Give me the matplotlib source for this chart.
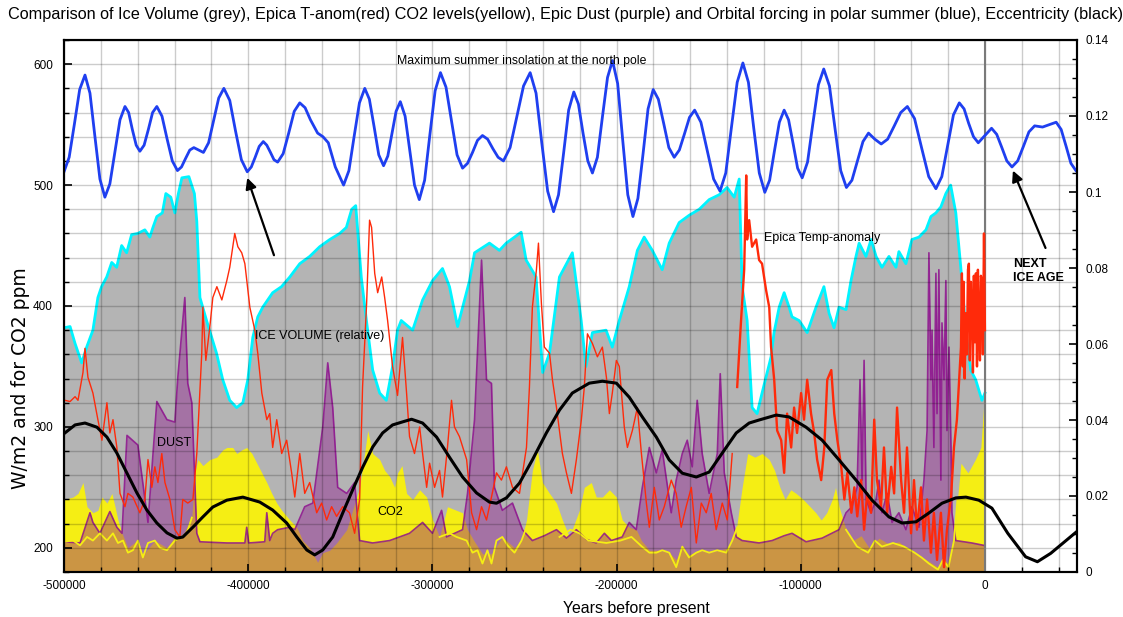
import numpy as np
import matplotlib
matplotlib.use("Agg")
import matplotlib.pyplot as plt
from matplotlib.ticker import MultipleLocator, FuncFormatter

# --- data; time in kyr (negative = before present) ---

# ice volume (relative), left axis units
ice_ka = [-500.0, -496.7, -494.0, -490.4, -487.7, -484.3, -481.6, -479.6, -476.8, -474.1,
          -471.4, -468.7, -466.0, -463.3, -459.9, -456.1, -453.4, -451.7, -449.6, -446.6,
          -444.7, -442.0, -439.8, -437.9, -436.0, -432.2, -429.2, -427.9, -426.2, -422.6,
          -417.2, -413.8, -410.0, -406.3, -402.9, -400.2, -397.5, -394.8, -392.1, -386.7,
          -381.9, -377.4, -372.0, -366.6, -361.2, -355.7, -350.3, -346.7, -343.8, -341.6,
          -338.6, -335.8, -332.4, -328.6, -325.0, -321.6, -318.9, -316.9, -310.7, -305.3,
          -299.9, -294.5, -290.7, -286.3, -279.8, -277.1, -269.0, -263.6, -259.9, -251.8,
          -249.1, -243.7, -240.1, -236.4, -231.0, -224.0, -219.2, -216.6, -213.1, -205.7,
          -202.3, -198.5, -193.1, -188.7, -185.0, -180.6, -175.2, -171.4, -166.0, -160.6,
          -155.1, -149.7, -144.3, -140.0, -136.1, -133.4, -131.8, -129.1, -126.4, -123.7,
          -121.0, -116.1, -114.5, -111.7, -109.0, -106.3, -104.7, -100.9, -96.5, -91.7,
          -87.4, -84.6, -81.9, -79.2, -75.4, -72.7, -70.0, -68.3, -64.6, -61.8,
          -59.1, -55.9, -52.1, -48.3, -46.7, -42.9, -39.6, -35.8, -32.0, -29.3,
          -26.6, -23.9, -21.2, -18.6, -15.8, -13.1, -10.4, -7.7, -5.0, -1.6, 0.0]
ice_val = [382, 383, 369, 353, 366, 380, 407, 416, 424, 436,
           432, 450, 444, 459, 460, 463, 457, 465, 474, 477,
           493, 490, 477, 493, 506, 507, 493, 470, 407, 388,
           361, 339, 322, 316, 320, 339, 374, 391, 399, 411,
           416, 424, 435, 441, 449, 455, 460, 465, 480, 483,
           424, 388, 347, 328, 322, 350, 380, 388, 380, 405,
           421, 431, 416, 383, 421, 444, 452, 446, 452, 461,
           438, 424, 345, 361, 424, 444, 388, 350, 378, 380,
           366, 388, 416, 446, 457, 446, 430, 452, 469, 475,
           480, 488, 492, 498, 490, 505, 416, 388, 316, 311,
           328, 358, 378, 399, 411, 399, 391, 388, 378, 399,
           416, 394, 382, 399, 397, 421, 441, 452, 441, 455,
           441, 432, 441, 432, 445, 435, 455, 457, 463, 474,
           477, 482, 493, 500, 477, 432, 380, 347, 339, 322, 328]

# CO2 (upper yellow fill), ppm
co2_ka = [-500.0, -495.1, -492.4, -489.7, -487.5, -484.3, -481.6, -479.4, -476.7, -474.0,
          -472.3, -470.7, -468.5, -465.3, -460.4, -457.2, -450.7, -444.1, -439.8, -436.0,
          -430.6, -429.0, -427.3, -424.6, -420.8, -417.0, -413.8, -411.6, -408.4, -406.2,
          -403.5, -400.8, -398.0, -395.3, -392.6, -389.9, -387.2, -384.5, -381.8, -377.4,
          -373.6, -370.4, -366.6, -362.3, -359.5, -355.7, -352.0, -346.5, -343.3, -339.5,
          -336.8, -335.1, -332.4, -328.6, -325.9, -323.2, -320.5, -318.9, -316.5, -314.0,
          -310.7, -306.9, -303.1, -299.9, -296.1, -291.8, -286.9, -283.6, -280.9, -277.1,
          -272.8, -267.9, -262.0, -255.4, -251.6, -248.9, -245.7, -243.0, -240.2, -236.4,
          -232.6, -229.4, -225.6, -220.2, -217.5, -213.7, -211.0, -207.7, -203.9, -200.1,
          -196.9, -193.1, -189.3, -186.5, -182.2, -176.8, -171.4, -167.6, -164.3, -160.6,
          -155.1, -149.7, -144.3, -138.8, -135.0, -131.8, -128.8, -124.9, -121.0, -117.1,
          -114.2, -111.3, -108.5, -105.4, -102.5, -98.7, -94.9, -91.8, -88.9, -85.9,
          -82.9, -81.1, -79.2, -75.4, -71.6, -67.2, -62.9, -57.5, -52.1, -46.7,
          -41.2, -35.8, -30.5, -25.5, -22.8, -19.8, -16.8, -14.9, -13.0, -9.2,
          -5.2, -2.2, -0.5, 0.0]
co2_val = [240, 242, 245, 254, 234, 229, 231, 242, 237, 245,
           234, 223, 212, 200, 206, 194, 206, 200, 209, 209,
           225, 262, 273, 268, 273, 275, 281, 283, 283, 278,
           281, 283, 278, 270, 262, 254, 245, 237, 231, 223,
           217, 206, 200, 188, 196, 198, 204, 215, 231, 250,
           278, 297, 278, 273, 264, 259, 250, 262, 268, 245,
           240, 248, 242, 223, 209, 234, 231, 229, 215, 205,
           195, 195, 209, 200, 206, 223, 264, 281, 254, 245,
           237, 223, 209, 231, 250, 254, 242, 242, 248, 242,
           223, 217, 215, 206, 198, 198, 196, 190, 201, 194,
           198, 196, 198, 200, 215, 250, 278, 275, 278, 273,
           264, 250, 240, 248, 245, 240, 234, 229, 223, 229,
           240, 250, 234, 215, 206, 210, 200, 208, 203, 205,
           198, 194, 189, 184, 192, 186, 206, 240, 270, 262,
           273, 283, 322, 355]

# second (lower) yellow CO2 trace, only where it separates from the fill
nan = np.nan
co2b_ka = [-500.0, -495.1, -491.3, -487.5, -484.3, -480.5, -476.7, -473.4, -470.7, -468.0,
           -465.3, -462.6, -459.9, -457.2, -454.4, -450.7, -447.9, -444.1, -439.8, -436.0,
           -433.3, -430.6, nan,
           -296.1, -290.7, -286.9, -281.4, -278.2, -275.5, -272.8, -270.1, -267.9, -265.2,
           -262.0, -259.2, -255.4, -251.6, -248.9, nan,
           -231.0, -225.0, -220.2, -215.3, -205.5, -197.9, -191.9, -186.2, -182.2, -178.4,
           -175.2, -171.4, -167.6, -164.3, -160.6, -156.7, -153.5, -149.7, -145.3, -140.4,
           -137.2, -134.5, nan,
           -75.4, -69.4, -63.4, -59.7, -55.9, -49.9, -43.9, -38.2, -34.4, -30.4,
           -25.5, -22.8, -19.8, -16.8, -14.9]
co2b_val = [205, 206, 202, 209, 206, 212, 206, 212, 204, 206,
            196, 198, 206, 192, 204, 206, 200, 198, 206, 209,
            212, 225, nan,
            209, 212, 209, 206, 196, 198, 187, 198, 187, 206,
            209, 202, 196, 206, 217, nan,
            209, 215, 212, 206, 204, 206, 209, 201, 196, 196,
            198, 196, 184, 201, 192, 196, 198, 196, 198, 196,
            206, 217, nan,
            215, 201, 196, 206, 201, 204, 201, 196, 192, 187,
            182, 190, 184, 206, 240]

# EPICA dust (purple), left axis units
dust_ka = [-500.0, -491.3, -485.9, -484.3, -480.5, -475.1, -471.3, -468.5, -465.8, -459.9,
           -454.4, -449.6, -444.1, -439.8, -438.2, -434.4, -432.8, -430.6, -427.9, -426.2,
           -411.6, -401.8, -400.8, -399.7, -391.0, -389.9, -388.3, -386.7, -384.0, -377.4,
           -374.7, -369.3, -364.9, -359.5, -356.8, -354.1, -351.4, -346.5, -342.2, -339.5,
           -332.4, -323.2, -312.4, -305.3, -299.9, -295.0, -292.3, -283.6, -280.9, -277.1,
           -273.3, -270.6, -267.9, -266.3, -262.0, -256.5, -251.1, -245.7, -239.2, -232.6,
           -227.2, -221.8, -216.4, -211.0, -206.6, -202.8, -196.9, -193.1, -189.3, -186.0,
           -182.2, -178.4, -175.2, -170.3, -167.6, -164.3, -161.6, -158.9, -156.2, -153.5,
           -149.7, -145.3, -143.7, -141.5, -137.7, -135.0, -131.8, -122.6, -115.5, -109.0,
           -104.7, -97.1, -88.4, -79.2, -75.4, -72.2, -69.4, -67.8, -66.7, -65.6,
           -64.5, -61.8, -59.1, -57.5, -55.9, -53.1, -50.4, -46.7, -42.9, -39.6,
           -35.8, -33.1, -31.4, -30.4, -29.3, -28.7, -27.7, -26.6, -26.0, -25.0,
           -23.9, -23.3, -22.2, -21.2, -20.6, -19.5, -18.4, -17.9, -15.8, -7.1,
           -0.5, 0.0]
dust_val = [205, 204, 229, 221, 212, 230, 217, 212, 293, 285,
            221, 321, 306, 304, 341, 407, 336, 320, 212, 205,
            204, 204, 217, 204, 205, 229, 206, 212, 215, 217,
            215, 234, 237, 300, 353, 316, 250, 245, 254, 206,
            204, 206, 212, 221, 212, 231, 209, 215, 245, 306,
            438, 339, 336, 250, 231, 237, 215, 206, 210, 215,
            208, 215, 207, 204, 212, 206, 209, 221, 215, 250,
            283, 262, 281, 229, 256, 278, 289, 267, 322, 278,
            245, 278, 344, 262, 229, 209, 206, 204, 206, 210,
            212, 205, 208, 215, 229, 234, 250, 339, 256, 355,
            240, 229, 240, 256, 229, 245, 221, 229, 215, 234,
            217, 256, 297, 444, 339, 380, 283, 427, 311, 430,
            256, 386, 339, 421, 297, 366, 283, 229, 206, 204,
            202, 202]

# EPICA temperature anomaly (red), plotted on left axis units
temp_ka = [-499.5, -496.7, -494.0, -492.4, -489.7, -488.6, -487.0, -484.3, -481.6, -479.4,
           -476.7, -475.1, -473.4, -471.3, -469.6, -466.9, -465.3, -462.6, -458.8, -456.1,
           -454.4, -452.3, -450.7, -449.0, -446.9, -445.2, -442.5, -439.8, -437.1, -435.5,
           -432.8, -430.0, -427.9, -425.2, -424.6, -423.0, -420.8, -419.2, -417.0, -414.3,
           -411.6, -410.0, -407.3, -405.6, -403.5, -401.8, -399.1, -396.4, -394.8, -392.6,
           -389.9, -388.3, -386.7, -384.5, -381.8, -379.1, -376.4, -374.7, -372.0, -369.3,
           -366.6, -362.8, -360.1, -357.4, -354.7, -352.0, -348.7, -345.0, -342.2, -339.5,
           -337.9, -335.7, -334.1, -333.0, -331.3, -329.7, -327.5, -325.9, -324.3, -321.6,
           -318.9, -316.2, -314.0, -312.4, -309.7, -306.9, -305.3, -303.1, -301.5, -298.8,
           -296.1, -294.5, -291.8, -289.6, -288.0, -285.3, -281.4, -278.7, -276.0, -273.3,
           -270.6, -267.9, -265.2, -262.5, -259.8, -256.5, -252.7, -248.9, -247.3, -245.7,
           -243.5, -242.4, -240.8, -239.2, -236.4, -234.8, -232.6, -231.0, -229.4, -227.2,
           -224.5, -221.8, -219.1, -217.5, -215.8, -213.1, -210.4, -207.7, -205.5, -203.9,
           -202.3, -200.1, -198.5, -195.8, -194.1, -191.4, -188.7, -186.5, -183.8, -182.2,
           -179.5, -176.8, -174.1, -170.3, -167.6, -164.9, -162.2, -159.4, -156.7, -154.0,
           -151.3, -148.6, -145.9, -142.6, -139.9, -137.2, -134.5, -132.4, -130.7, -129.6,
           -129.1, -128.0, -126.4, -124.2, -122.6, -121.0, -118.8, -117.1, -116.1, -114.4,
           -112.8, -110.6, -109.0, -107.4, -105.2, -103.6, -102.0, -99.8, -98.2, -96.5,
           -94.4, -92.7, -91.1, -88.9, -87.2, -85.6, -83.4, -81.8, -80.1, -78.0,
           -76.3, -74.7, -72.5, -70.9, -69.3, -67.2, -65.6, -63.9, -61.8, -60.1,
           -58.6, -56.4, -54.8, -53.1, -50.9, -49.3, -47.7, -45.5, -43.9, -42.3,
           -40.1, -38.5, -36.9, -34.7, -33.1, -31.4, -29.3, -27.7, -26.0, -23.9,
           -22.2, -20.6, -18.4, -16.8, -15.2, -13.0, -12.5, -12.0, -11.5, -11.0,
           -10.3, -9.8, -9.2, -8.7, -8.2, -7.6, -7.0, -6.5, -6.0, -5.4,
           -4.9, -4.3, -3.8, -3.3, -2.7, -2.2, -1.6, -1.1, -0.5, 0.0]
temp_val = [322, 321, 325, 322, 345, 365, 341, 328, 306, 289,
            320, 295, 306, 283, 245, 234, 245, 242, 229, 240,
            273, 250, 267, 254, 278, 254, 240, 215, 209, 240,
            237, 240, 278, 361, 399, 355, 383, 407, 416, 405,
            421, 432, 460, 449, 444, 435, 399, 380, 361, 328,
            306, 311, 283, 306, 278, 289, 262, 242, 278, 245,
            254, 229, 237, 223, 234, 226, 234, 229, 212, 240,
            333, 402, 471, 465, 427, 411, 424, 407, 388, 350,
            326, 374, 328, 292, 278, 300, 278, 250, 270, 250,
            264, 242, 283, 322, 300, 292, 273, 229, 215, 234,
            223, 242, 262, 256, 267, 250, 245, 283, 333, 399,
            430, 452, 402, 366, 361, 339, 316, 297, 278, 262,
            245, 273, 306, 333, 377, 369, 358, 366, 341, 311,
            328, 355, 350, 300, 283, 297, 316, 278, 237, 217,
            250, 223, 234, 256, 245, 217, 234, 250, 204, 237,
            229, 245, 215, 237, 223, 278, 333, 388, 430, 508,
            455, 471, 449, 455, 438, 435, 413, 399, 366, 339,
            297, 289, 262, 311, 283, 316, 295, 328, 306, 339,
            311, 295, 273, 256, 283, 339, 347, 311, 289, 267,
            240, 262, 229, 250, 226, 256, 215, 245, 229, 306,
            256, 234, 283, 229, 267, 245, 316, 256, 229, 283,
            212, 256, 215, 250, 206, 240, 196, 229, 190, 229,
            184, 215, 242, 283, 306, 366, 427, 350, 420, 340,
            394, 360, 430, 435, 355, 420, 399, 345, 425, 370,
            427, 350, 430, 388, 355, 425, 421, 360, 460, 380]

# maximum summer insolation at the north pole (blue), W/m2
ins_ka = [-500.0, -497.2, -494.3, -491.5, -488.6, -485.9, -483.2, -480.5, -477.8, -475.1,
          -472.4, -469.6, -466.9, -464.9, -462.9, -460.8, -458.8, -456.5, -454.2, -451.9,
          -449.6, -446.8, -444.0, -441.2, -438.4, -436.2, -434.0, -431.7, -429.5, -426.9,
          -424.3, -421.5, -418.8, -416.0, -413.2, -410.0, -406.9, -403.7, -400.5, -398.3,
          -396.2, -394.0, -391.8, -389.9, -387.9, -386.0, -384.0, -381.0, -378.0, -375.0,
          -372.0, -369.1, -366.2, -362.3, -359.4, -356.5, -352.7, -348.2, -345.3, -342.5,
          -339.6, -336.7, -334.2, -331.6, -329.1, -326.5, -324.2, -322.0, -319.7, -317.4,
          -314.8, -312.3, -309.7, -307.1, -304.2, -301.4, -298.5, -295.6, -292.6, -289.6,
          -286.6, -283.6, -280.9, -278.2, -275.5, -272.8, -270.0, -267.1, -264.3, -261.4,
          -257.8, -254.2, -250.5, -246.9, -243.7, -240.6, -237.4, -234.2, -231.5, -228.7,
          -226.0, -223.2, -220.7, -218.2, -215.6, -213.1, -210.4, -207.7, -204.9, -202.2,
          -199.4, -196.7, -193.9, -191.1, -188.4, -185.6, -182.9, -180.1, -177.3, -174.4,
          -171.6, -168.7, -165.9, -163.2, -160.4, -157.6, -154.2, -150.7, -147.3, -143.8,
          -140.7, -137.6, -134.5, -131.4, -128.4, -125.5, -122.5, -119.5, -116.9, -114.3,
          -111.6, -109.0, -106.6, -104.1, -101.7, -99.2, -96.3, -93.4, -90.4, -87.5,
          -84.4, -81.4, -78.3, -75.2, -72.2, -69.2, -66.2, -63.2, -59.8, -56.3,
          -52.8, -49.2, -45.7, -42.1, -38.2, -34.4, -30.5, -26.6, -23.4, -20.3,
          -17.1, -13.9, -11.3, -8.8, -6.2, -3.6, 0.0, 3.6, 6.4, 9.2,
          11.9, 14.7, 17.8, 20.9, 23.9, 27.0, 31.3, 38.7, 41.4, 44.1,
          46.7, 49.4]
ins_val = [511, 523, 551, 579, 591, 576, 540, 505, 490, 501,
           527, 554, 565, 560, 546, 533, 528, 533, 546, 560,
           565, 557, 538, 520, 512, 515, 522, 529, 531, 529,
           527, 535, 553, 572, 580, 570, 545, 521, 511, 515,
           523, 532, 536, 533, 527, 521, 519, 526, 543, 561,
           568, 564, 554, 543, 540, 535, 515, 500, 512, 540,
           568, 580, 571, 548, 525, 516, 524, 542, 561, 569,
           557, 529, 500, 488, 504, 541, 578, 593, 581, 553,
           525, 514, 518, 527, 537, 541, 538, 530, 523, 520,
           531, 556, 582, 593, 576, 535, 495, 478, 492, 527,
           562, 577, 567, 543, 520, 510, 523, 556, 589, 603,
           584, 538, 492, 474, 489, 526, 563, 579, 571, 551,
           531, 523, 529, 542, 556, 562, 552, 528, 505, 495,
           510, 548, 585, 601, 585, 547, 510, 494, 504, 528,
           552, 562, 554, 534, 514, 506, 519, 551, 583, 596,
           582, 547, 512, 498, 504, 520, 536, 543, 538, 534,
           538, 549, 560, 565, 555, 531, 507, 497, 507, 532,
           558, 568, 563, 551, 540, 535, 541, 547, 542, 531,
           520, 515, 520, 532, 544, 549, 548, 552, 546, 532,
           518, 512]

# orbital eccentricity (black), right axis
ecc_ka = [-499.5, -494.0, -488.6, -482.1, -476.7, -471.3, -465.8, -460.4, -455.0, -449.6,
          -444.1, -438.7, -435.5, -430.0, -424.6, -419.2, -411.6, -402.9, -393.7, -386.7,
          -379.1, -373.6, -368.2, -363.9, -359.5, -354.1, -348.7, -343.3, -337.8, -332.4,
          -327.0, -321.6, -316.2, -311.3, -305.3, -297.7, -290.7, -283.6, -276.0, -269.0,
          -265.2, -259.8, -252.7, -245.7, -238.1, -231.0, -224.0, -214.8, -207.7, -200.1,
          -193.1, -186.0, -178.4, -171.4, -164.3, -156.7, -149.7, -142.6, -135.0, -128.0,
          -122.6, -113.3, -106.3, -97.1, -88.4, -79.2, -70.0, -61.3, -52.1, -45.0,
          -37.4, -30.5, -23.3, -15.8, -10.3, -3.3, 3.8, 12.4, 22.1, 28.5,
          35.7, 49.3]
ecc_val = [0.0366, 0.0387, 0.0392, 0.0381, 0.0355, 0.0313, 0.0260, 0.0208, 0.0163, 0.0129,
           0.0103, 0.0089, 0.0092, 0.0118, 0.0145, 0.0171, 0.0189, 0.0197, 0.0184, 0.0163,
           0.0129, 0.0092, 0.0058, 0.0045, 0.0058, 0.0092, 0.0155, 0.0216, 0.0276, 0.0329,
           0.0366, 0.0387, 0.0395, 0.0402, 0.0392, 0.0355, 0.0302, 0.0250, 0.0208, 0.0184,
           0.0181, 0.0195, 0.0234, 0.0295, 0.0366, 0.0426, 0.0471, 0.0497, 0.0502, 0.0497,
           0.0460, 0.0408, 0.0355, 0.0295, 0.0260, 0.0250, 0.0263, 0.0313, 0.0366, 0.0392,
           0.0400, 0.0413, 0.0408, 0.0381, 0.0347, 0.0295, 0.0242, 0.0189, 0.0145, 0.0129,
           0.0132, 0.0155, 0.0181, 0.0195, 0.0197, 0.0189, 0.0168, 0.0102, 0.0040, 0.0027,
           0.0049, 0.0104]

BASE = 180
DENSE_FROM_KA = -135.0   # the red record gets much denser (drawn heavier) after this

C_GREY = "#b4b4b4"
C_CYAN = "#00f4ff"
C_YELLOW = "#f5ee14"
C_DUST = "#8e118e"
C_RED = "#ff2a0a"
C_BLUE = "#1f3ff0"

FONT = "Liberation Sans"


def yrs(ka):
    return np.asarray(ka, dtype=float) * 1000.0


def main() -> None:
    plt.rcParams["font.family"] = [FONT, "DejaVu Sans"]

    fig = plt.figure(figsize=(11.23, 6.17), dpi=100)
    ax = fig.add_axes([64 / 1123, 45 / 617, 1013 / 1123, 532 / 617])

    # --- filled layers ---
    ax.fill_between(yrs(ice_ka), BASE, ice_val, color=C_GREY, lw=0, zorder=1.0)
    ax.plot(yrs(ice_ka), ice_val, color=C_CYAN, lw=2.0, zorder=1.1)
    ax.fill_between(yrs(co2_ka), BASE, co2_val, color=C_YELLOW, lw=0, zorder=1.2)
    ax.fill_between(yrs(dust_ka), BASE, dust_val, color=C_DUST, alpha=0.4, lw=0, zorder=1.3)
    ax.plot(yrs(dust_ka), dust_val, color=C_DUST, lw=1.2, alpha=0.85, zorder=1.35)
    ax.plot(yrs(co2b_ka), co2b_val, color=C_YELLOW, lw=1.3, zorder=1.4)

    # --- lines ---
    t_ka = np.asarray(temp_ka)
    t_val = np.asarray(temp_val, dtype=float)
    old = t_ka <= DENSE_FROM_KA
    new = t_ka >= DENSE_FROM_KA
    ax.plot(yrs(t_ka[old]), t_val[old], color=C_RED, lw=1.0, zorder=3)
    ax.plot(yrs(t_ka[new]), t_val[new], color=C_RED, lw=1.7, zorder=3)
    ax.plot(yrs(ins_ka), ins_val, color=C_BLUE, lw=2.0, zorder=3)
    ax.axvline(0, color="#7a7a7a", lw=1.5, zorder=2.6)

    ax.set_xlim(-500000, 50000)
    ax.set_ylim(180, 620)

    ax.xaxis.set_major_locator(MultipleLocator(100000))
    ax.xaxis.set_minor_locator(MultipleLocator(20000))
    ax.yaxis.set_major_locator(MultipleLocator(100))
    ax.yaxis.set_minor_locator(MultipleLocator(20))
    ax.xaxis.set_major_formatter(FuncFormatter(lambda v, p: f"{int(round(v))}" if v <= 0 else ""))

    ax.set_axisbelow(False)
    ax.grid(True, which="both", color="black", alpha=0.2, lw=1.0)
    ax.tick_params(which="both", direction="in", labelsize=8.5)
    ax.tick_params(which="major", length=6, width=1.2)
    ax.tick_params(which="minor", length=3.5, width=1.0)
    ax.tick_params(axis="y", pad=8)
    ax.tick_params(axis="x", pad=6)
    for s in ax.spines.values():
        s.set_linewidth(1.5)

    # --- eccentricity on right axis ---
    ax2 = ax.twinx()
    ax2.plot(yrs(ecc_ka), ecc_val, color="black", lw=2.2, zorder=4)
    ax2.set_ylim(0, 0.14)
    ax2.yaxis.set_major_locator(MultipleLocator(0.02))
    ax2.yaxis.set_minor_locator(MultipleLocator(0.005))
    ax2.yaxis.set_major_formatter(FuncFormatter(lambda v, p: f"{v:g}"))
    ax2.tick_params(which="both", direction="in", labelsize=8.5, pad=6)
    ax2.tick_params(which="major", length=6, width=1.2)
    ax2.tick_params(which="minor", length=3.5, width=1.0)
    for s in ax2.spines.values():
        s.set_linewidth(1.5)

    # --- annotations ---
    ax.text(-319000, 602.6, "Maximum summer insolation at the north pole",
            fontsize=8.8, va="center", ha="left", zorder=5)
    ax.text(-119800, 456, "Epica Temp-anomaly", fontsize=9, va="center", ha="left", zorder=5)
    ax.text(-396400, 375, "ICE VOLUME (relative)", fontsize=9, va="center", ha="left", zorder=5)
    ax.text(-449600, 287, "DUST", fontsize=9, va="center", ha="left", zorder=5)
    ax.text(-329700, 230, "CO2", fontsize=9, va="center", ha="left", zorder=5)
    ax.text(15200, 429, "NEXT\nICE AGE", fontsize=9, fontweight="bold",
            va="center", ha="left", linespacing=1.15, zorder=5)

    arrow = dict(arrowstyle="-|>", color="black", lw=1.6, mutation_scale=16,
                 shrinkA=0, shrinkB=0)
    ax.annotate("", xy=(-400500, 506), xytext=(-386000, 442), arrowprops=arrow, zorder=5)
    ax.annotate("", xy=(15200, 512), xytext=(32900, 448), arrowprops=arrow, zorder=5)

    # --- titles ---
    fig.text(8 / 1123, 1 - 15 / 617,
             "Comparison of Ice Volume (grey), Epica T-anom(red) CO2 levels(yellow), "
             "Epic Dust (purple) and Orbital forcing in polar summer (blue), Eccentricity (black)",
             fontsize=11.7, ha="left", va="center")
    fig.text(636 / 1123, 1 - 609 / 617, "Years before present", fontsize=11.4,
             ha="center", va="center")
    fig.text(21 / 1123, 1 - 378 / 617, "W/m2 and for CO2 ppm", fontsize=13.5,
             family="DejaVu Sans", rotation=90, ha="center", va="center")

    fig.savefig("out.png", dpi=100)
    plt.close(fig)


if __name__ == "__main__":
    main()
